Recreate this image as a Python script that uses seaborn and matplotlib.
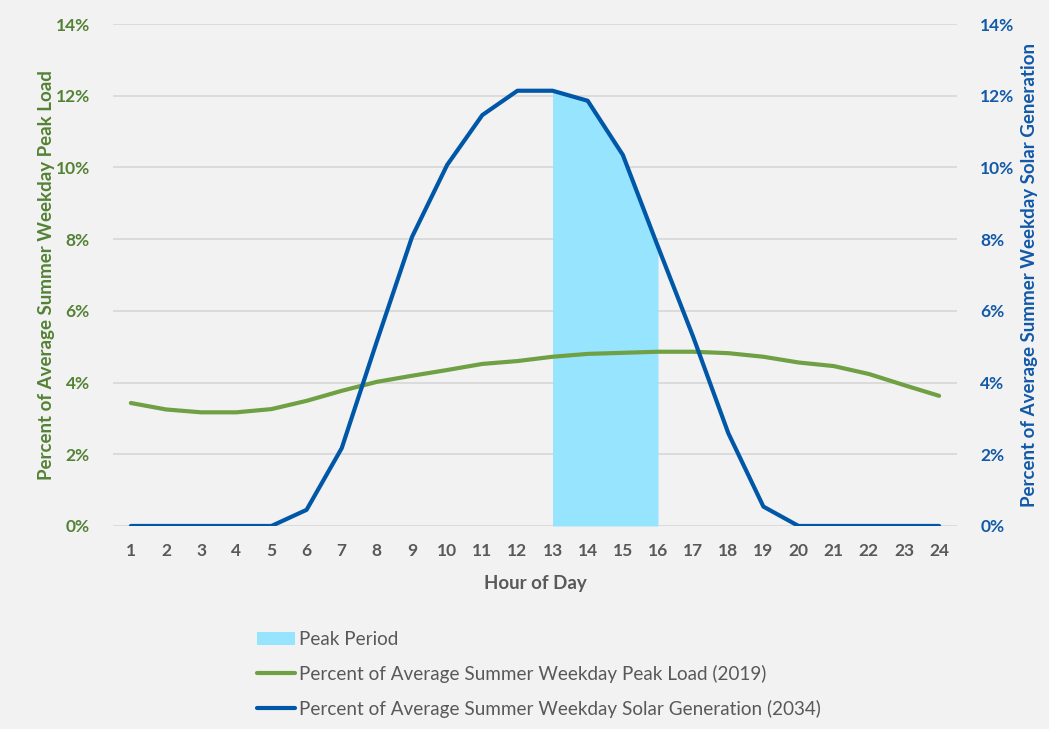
import matplotlib.pyplot as plt
import matplotlib.ticker as mtick
from matplotlib.patches import Patch
from matplotlib.lines import Line2D
import numpy as np
import pandas as pd
import seaborn as sns

# data (fractions, shown as percent)
hours = list(range(1, 25))
peak_load = [3.43, 3.25, 3.17, 3.17, 3.26, 3.49, 3.77, 4.02, 4.19, 4.35, 4.52, 4.60,
             4.72, 4.80, 4.83, 4.86, 4.86, 4.82, 4.72, 4.56, 4.46, 4.24, 3.93, 3.63]
solar_gen = [0, 0, 0, 0, 0, 0.45, 2.17, 5.15, 8.06, 10.07, 11.46, 12.14,
             12.14, 11.86, 10.35, 7.79, 5.28, 2.59, 0.54, 0, 0, 0, 0, 0]
peak_start, peak_end = 13, 16

load_label = 'Percent of Average Summer Weekday Peak Load (2019)'
solar_label = 'Percent of Average Summer Weekday Solar Generation (2034)'

df = pd.DataFrame({'hour': hours,
                   'load': np.array(peak_load) / 100,
                   'solar': np.array(solar_gen) / 100})

bg = '#F2F2F2'
green = '#70A044'
green_txt = '#548235'
blue = '#0057A8'
blue_txt = '#1259A8'
cyan = '#97E4FF'
gray = '#595959'

sns.set_theme(style='white')
plt.rcParams['font.family'] = ['Lato', 'DejaVu Sans']

fig = plt.figure(figsize=(10.49, 7.29), dpi=100, facecolor=bg)
ax = fig.add_axes([0.108, 0.2785, 0.804, 0.6885])
ax.set_facecolor(bg)
ax2 = ax.twinx()

# peak period shading under the solar curve
pk = df[(df.hour >= peak_start) & (df.hour <= peak_end)]
ax.fill_between(pk.hour, 0, pk.solar, color=cyan, linewidth=0, zorder=1)

sns.lineplot(data=df, x='hour', y='load', ax=ax, color=green, linewidth=3, zorder=3)
sns.lineplot(data=df, x='hour', y='solar', ax=ax2, color=blue, linewidth=3, zorder=3)

for a in (ax, ax2):
    a.set_xlim(0.5, 24.5)
    a.set_ylim(0, 0.14)
    a.set_yticks(np.arange(0, 0.141, 0.02))
    a.yaxis.set_major_formatter(mtick.PercentFormatter(1.0, decimals=0))
    for s in a.spines.values():
        s.set_visible(False)
    a.tick_params(length=0)

ax.grid(axis='y', color='#D9D9D9', linewidth=1.3)
ax.set_axisbelow(True)
ax.set_xticks(hours)
ax.tick_params(axis='x', labelsize=12.5, labelcolor=gray, pad=12)
ax.tick_params(axis='y', labelsize=12.5, labelcolor=green_txt, pad=17)
ax2.tick_params(axis='y', labelsize=12.5, labelcolor=blue_txt, pad=17)
for lab in ax.get_xticklabels() + ax.get_yticklabels() + ax2.get_yticklabels():
    lab.set_fontweight('bold')

ax.set_xlabel('Hour of Day', fontsize=13.5, fontweight='bold', color=gray, labelpad=12)
ax.set_ylabel('Percent of Average Summer Weekday Peak Load', fontsize=13.5,
              fontweight='bold', color=green_txt, labelpad=0)
ax2.set_ylabel('Percent of Average Summer Weekday Solar Generation', fontsize=13.5,
               fontweight='bold', color=blue_txt, labelpad=5)

handles = [Patch(facecolor=cyan, edgecolor='none'),
           Line2D([], [], color=green, linewidth=3),
           Line2D([], [], color=blue, linewidth=3)]
labels = ['Peak Period', load_label, solar_label]
leg = fig.legend(handles, labels, loc='upper left', bbox_to_anchor=(0.238, 0.145),
                 frameon=False, fontsize=13.6, handlelength=2.0, handletextpad=0.2,
                 labelspacing=0.9, borderaxespad=0)
for t in leg.get_texts():
    t.set_color(gray)

fig.savefig('out.png', dpi=100, facecolor=bg)
